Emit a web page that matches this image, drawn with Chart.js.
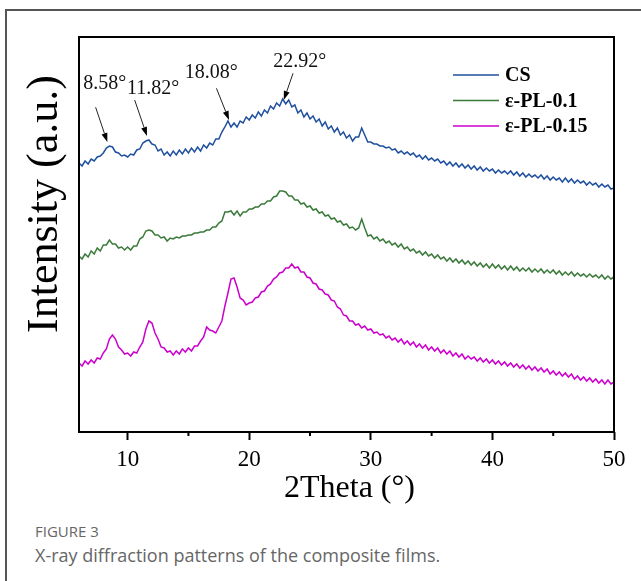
<!DOCTYPE html>
<html>
<head>
<meta charset="utf-8">
<script src="https://cdn.jsdelivr.net/npm/chart.js@4.4.0/dist/chart.umd.min.js"></script>
<style>
  body { margin: 0; background: #fff; width: 641px; height: 581px; overflow: hidden; position: relative; }
  #frame { position: absolute; left: 5px; top: 9px; width: 700px; height: 700px; border-left: 2px solid #555; border-top: 2px solid #555; }
  #wrap { position: absolute; left: 0; top: 0; width: 641px; height: 510px; }
  .cap1 { position: absolute; left: 35px; top: 524px; font: 15px/15px "Open Sans", sans-serif; color: #666; }
  .cap2 { position: absolute; left: 35px; top: 546px; font: 18px/18px "Open Sans", sans-serif; color: #666; }
</style>
</head>
<body>
<div id="frame"></div>
<div id="wrap"><canvas id="xrd" width="641" height="510"></canvas></div>
<div class="cap1">FIGURE 3</div>
<div class="cap2">X-ray diffraction patterns of the composite films.</div>
<script>
// sampling grid: 6° to 50° every 0.25°
const twoTheta = Array.from({ length: 177 }, (_, i) => 6 + i * 0.25);

const seriesNames = ["CS", "ε-PL-0.1", "ε-PL-0.15"];

// intensities (arbitrary units, stacked offsets as in the figure)
const cs = [
  269, 266, 271, 268, 273, 271, 275, 276,
  279, 284, 286, 285, 280, 279, 276, 277,
  275, 278, 277, 282, 283, 289, 291, 292,
  288, 287, 281, 283, 277, 280, 276, 281,
  277, 282, 278, 283, 279, 284, 280, 285,
  281, 287, 284, 289, 287, 293, 293, 300,
  305, 311, 305, 309, 305, 311, 309, 315,
  312, 317, 314, 320, 316, 322, 319, 326,
  323, 329, 326, 333, 328, 332, 325, 327,
  319, 322, 315, 319, 313, 316, 310, 313,
  306, 310, 303, 306, 300, 304, 297, 300,
  294, 297, 291, 295, 295, 304, 297, 290,
  290, 288, 288, 286, 286, 284, 285, 282,
  283, 279, 281, 278, 280, 277, 279, 275,
  277, 273, 276, 272, 274, 271, 273, 269,
  271, 267, 270, 266, 269, 265, 268, 264,
  267, 263, 266, 262, 265, 261, 264, 261,
  263, 259, 262, 259, 261, 258, 261, 257,
  260, 256, 259, 255, 258, 255, 257, 254,
  257, 253, 256, 252, 255, 252, 254, 250,
  254, 250, 253, 249, 252, 249, 251, 247,
  250, 247, 249, 245, 248, 245, 247, 243,
  244
];

const pl01 = [
  176, 173, 178, 175, 181, 178, 184, 181,
  187, 187, 192, 188, 188, 184, 185, 182,
  185, 182, 186, 186, 193, 195, 201, 202,
  201, 197, 197, 194, 195, 191, 194, 193,
  195, 194, 196, 196, 197, 197, 199, 199,
  200, 200, 202, 202, 205, 205, 209, 211,
  220, 220, 221, 217, 221, 216, 220, 220,
  223, 223, 225, 225, 228, 228, 231, 231,
  235, 236, 241, 241, 240, 236, 236, 232,
  232, 228, 229, 225, 226, 222, 223, 219,
  220, 216, 217, 213, 214, 210, 211, 207,
  208, 204, 205, 202, 204, 213, 204, 196,
  197, 193, 195, 191, 193, 189, 191, 187,
  189, 185, 188, 183, 185, 181, 183, 179,
  181, 177, 180, 176, 178, 174, 177, 173,
  175, 171, 174, 170, 173, 169, 172, 168,
  171, 167, 170, 166, 169, 165, 168, 164,
  168, 164, 167, 163, 166, 162, 166, 162,
  165, 161, 164, 161, 164, 160, 163, 160,
  163, 159, 162, 159, 162, 158, 161, 157,
  160, 157, 160, 156, 159, 156, 158, 155,
  158, 155, 157, 154, 157, 153, 156, 153,
  155
];

const pl015 = [
  69, 66, 71, 68, 72, 69, 74, 73,
  79, 83, 93, 97, 93, 85, 82, 78,
  79, 76, 80, 79, 85, 90, 103, 111,
  109, 99, 93, 85, 84, 80, 81, 77,
  81, 78, 83, 80, 84, 81, 86, 86,
  91, 95, 105, 102, 101, 99, 105, 111,
  126, 139, 153, 154, 145, 134, 132, 127,
  129, 130, 134, 135, 140, 141, 146, 148,
  153, 155, 159, 160, 164, 164, 168, 164,
  165, 160, 160, 155, 154, 149, 148, 143,
  142, 138, 137, 132, 131, 125, 123, 117,
  116, 111, 111, 107, 108, 104, 106, 102,
  103, 99, 100, 97, 98, 94, 96, 92,
  94, 90, 93, 88, 91, 87, 90, 85,
  88, 84, 87, 82, 85, 81, 84, 79,
  82, 78, 81, 76, 79, 75, 78, 73,
  76, 73, 75, 71, 74, 70, 73, 69,
  72, 68, 71, 67, 70, 66, 69, 65,
  68, 64, 67, 63, 66, 62, 65, 61,
  64, 60, 63, 58, 61, 57, 60, 56,
  59, 55, 58, 53, 56, 52, 55, 51,
  54, 50, 53, 49, 52, 48, 52, 48,
  50
];

// marked peaks on the CS pattern (arrow tip in data units)
const peakLabels = ["8.58°", "11.82°", "18.08°", "22.92°"];
const peakX = [8.33, 11.59, 18.34, 22.84];
const peakY = [290, 296, 312, 332];

const colors = ["#1f50a0", "#3a7a3a", "#cc00cc"];
const serif = '"Liberation Serif", "Times New Roman", serif';

// arrow tail / label offsets from the tip, in px
const arrowTail = [[-11.7, -34.7], [-12.3, -36], [-12.6, -31.7], [9.3, -26.7]];
const labelPos = [[-2.7, -52.7], [6.2, -42], [-17.8, -42], [16, -33]];

const overlay = {
  id: "overlay",
  afterDatasetsDraw(chart) {
    const { ctx, chartArea: a, scales: { x, y } } = chart;
    ctx.save();

    // plot box
    ctx.strokeStyle = "#000";
    ctx.lineWidth = 2;
    ctx.strokeRect(a.left, a.top, a.right - a.left, a.bottom - a.top);

    // minor ticks
    x.ticks.forEach((t) => {
      if (t.value % 10 === 5) {
        const px = x.getPixelForValue(t.value);
        ctx.beginPath();
        ctx.moveTo(px, a.bottom);
        ctx.lineTo(px, a.bottom + 4);
        ctx.stroke();
      }
    });

    // peak arrows + labels
    ctx.font = "20px " + serif;
    ctx.textAlign = "center";
    ctx.textBaseline = "alphabetic";
    peakLabels.forEach((lab, i) => {
      const tx = x.getPixelForValue(peakX[i]);
      const ty = y.getPixelForValue(peakY[i]);
      const sx = tx + arrowTail[i][0];
      const sy = ty + arrowTail[i][1];
      const ang = Math.atan2(ty - sy, tx - sx);
      const head = 9;
      const hx = tx - head * Math.cos(ang);
      const hy = ty - head * Math.sin(ang);
      ctx.strokeStyle = "#222";
      ctx.lineWidth = 1;
      ctx.beginPath();
      ctx.moveTo(sx, sy);
      ctx.lineTo(hx, hy);
      ctx.stroke();
      ctx.fillStyle = "#000";
      ctx.beginPath();
      ctx.moveTo(tx, ty);
      ctx.lineTo(hx + 3 * Math.sin(ang), hy - 3 * Math.cos(ang));
      ctx.lineTo(hx - 3 * Math.sin(ang), hy + 3 * Math.cos(ang));
      ctx.closePath();
      ctx.fill();
      ctx.fillStyle = "#111";
      ctx.fillText(lab, tx + labelPos[i][0], ty + labelPos[i][1]);
    });

    // legend
    ctx.font = "bold 20px " + serif;
    ctx.textAlign = "left";
    ctx.textBaseline = "middle";
    chart.data.datasets.forEach((ds, i) => {
      const ly = 75 + i * 25.5;
      ctx.strokeStyle = ds.borderColor;
      ctx.lineWidth = 1.3;
      ctx.beginPath();
      ctx.moveTo(453, ly);
      ctx.lineTo(499, ly);
      ctx.stroke();
      ctx.fillStyle = "#000";
      ctx.fillText(ds.label, 505, ly + 1);
    });

    // axis titles
    ctx.fillStyle = "#000";
    ctx.textAlign = "center";
    ctx.textBaseline = "alphabetic";
    ctx.font = "32px " + serif;
    ctx.fillText("2Theta (°)", (a.left + a.right) / 2 + 3, 497);
    ctx.translate(57, 204);
    ctx.rotate(-Math.PI / 2);
    ctx.font = "44px " + serif;
    ctx.fillText("Intensity (a.u.)", 0, 0);
    ctx.restore();
  }
};

const allSeries = [cs, pl01, pl015];

new Chart(document.getElementById("xrd").getContext("2d"), {
  type: "line",
  data: {
    datasets: allSeries.map((vals, i) => ({
      label: seriesNames[i],
      data: twoTheta.map((t, j) => ({ x: t, y: vals[j] })),
      borderColor: colors[i],
      borderWidth: 1.5,
      pointRadius: 0,
      tension: 0,
      fill: false
    }))
  },
  options: {
    responsive: false,
    animation: false,
    layout: { padding: { top: 37, right: 27, left: 0, bottom: 0 } },
    plugins: { legend: { display: false }, tooltip: { enabled: false } },
    scales: {
      x: {
        type: "linear",
        min: 6,
        max: 50,
        afterFit: (s) => { s.height = 78; },
        border: { display: false },
        grid: {
          drawOnChartArea: false,
          drawTicks: true,
          tickLength: 8,
          tickWidth: 2,
          tickColor: (c) => (c.tick && c.tick.value % 10 === 0 ? "#000" : "rgba(0,0,0,0)")
        },
        ticks: {
          stepSize: 5,
          autoSkip: false,
          maxRotation: 0,
          padding: 6,
          color: "#000",
          font: { family: serif, size: 23 },
          callback: (v) => (v % 10 === 0 ? v : "")
        }
      },
      y: {
        min: 0,
        max: 395,
        afterFit: (s) => { s.width = 79; },
        border: { display: false },
        grid: { display: false },
        ticks: { display: false }
      }
    }
  },
  plugins: [overlay]
});
</script>
</body>
</html>
